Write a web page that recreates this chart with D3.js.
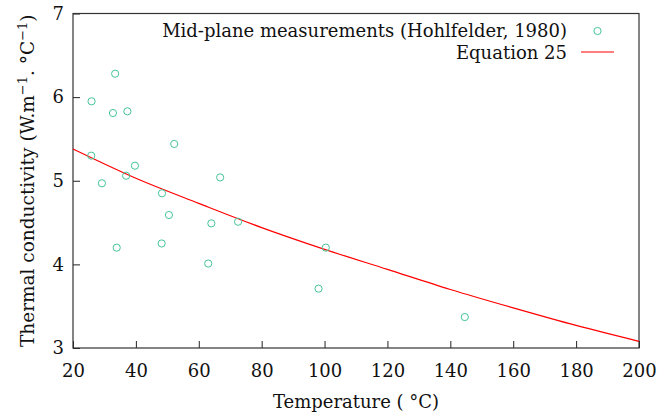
<!DOCTYPE html>
<html>
<head>
<meta charset="utf-8">
<script src="https://cdn.jsdelivr.net/npm/d3@7"></script>
<style>
  body { margin: 0; background: #fff; }
  svg { display: block; }
  svg text { font-family: "DejaVu Serif", serif; fill: #111; }
</style>
</head>
<body>
<svg id="chart" width="670" height="414"></svg>
<script>
// Measured data (Hohlfelder, 1980)
const measTemp = [33.4, 25.9, 32.7, 37.3, 52.2, 25.8, 39.7, 29.2, 36.9, 66.8,
                  48.3, 50.5, 64.0, 72.5, 33.9, 48.2, 63.0, 100.4, 98.1, 144.6];
const measK = [6.28, 5.95, 5.81, 5.83, 5.44, 5.30, 5.18, 4.97, 5.06, 5.04,
               4.85, 4.59, 4.49, 4.51, 4.20, 4.25, 4.01, 4.20, 3.71, 3.37];

// Equation 25
const eqTemp = [20, 40, 60, 80, 100, 120, 140, 160, 180, 200];
const eqK = [5.38, 5.03, 4.73, 4.44, 4.18, 3.94, 3.70, 3.48, 3.27, 3.08];

const xTicks = [20, 40, 60, 80, 100, 120, 140, 160, 180, 200];
const yTicks = [3, 4, 5, 6, 7];

const margin = {left: 73, top: 13.5, right: 31, bottom: 66};
const width = 670, height = 414;
const serif = "DejaVu Serif";
const green = "#45c49a";

const svg = d3.select("#chart");

const x = d3.scaleLinear().domain([20, 200]).range([margin.left, width - margin.right]);
const y = d3.scaleLinear().domain([3, 7]).range([height - margin.bottom, margin.top]);

// Axes with inward ticks
svg.append("g")
  .attr("transform", `translate(0,${height - margin.bottom})`)
  .attr("font-family", serif)
  .call(d3.axisBottom(x).tickValues(xTicks).tickSize(-7).tickPadding(16).tickFormat(d3.format("d")))
  .call(g => g.select(".domain").remove())
  .call(g => g.selectAll("line").attr("stroke", "#222"))
  .call(g => g.selectAll("text").attr("font-size", 18));

svg.append("g")
  .attr("transform", `translate(${margin.left},0)`)
  .attr("font-family", serif)
  .call(d3.axisLeft(y).tickValues(yTicks).tickSize(-7).tickPadding(9).tickFormat(d3.format("d")))
  .call(g => g.select(".domain").remove())
  .call(g => g.selectAll("line").attr("stroke", "#222"))
  .call(g => g.selectAll("text").attr("font-size", 18));

// Border
svg.append("rect")
  .attr("x", margin.left).attr("y", margin.top)
  .attr("width", width - margin.right - margin.left)
  .attr("height", height - margin.bottom - margin.top)
  .attr("fill", "none").attr("stroke", "#333").attr("stroke-width", 1.2);

// Equation curve
const line = d3.line()
  .x((d, i) => x(eqTemp[i]))
  .y(d => y(d))
  .curve(d3.curveMonotoneX);

svg.append("path")
  .datum(eqK)
  .attr("d", line)
  .attr("fill", "none")
  .attr("stroke", "#ff0000")
  .attr("stroke-width", 1.2);

// Measurements
svg.append("g")
  .selectAll("circle")
  .data(measK)
  .join("circle")
  .attr("cx", (d, i) => x(measTemp[i]))
  .attr("cy", d => y(d))
  .attr("r", 3.6)
  .attr("fill", "none")
  .attr("stroke", green)
  .attr("stroke-width", 1);

// Legend
const legend = svg.append("g").attr("font-family", serif).attr("font-size", 18);
legend.append("text")
  .attr("x", 567).attr("y", 37)
  .attr("text-anchor", "end")
  .text("Mid-plane measurements (Hohlfelder, 1980)");
legend.append("circle")
  .attr("cx", 597.5).attr("cy", 31).attr("r", 3.6)
  .attr("fill", "none").attr("stroke", green);
legend.append("text")
  .attr("x", 567).attr("y", 59)
  .attr("text-anchor", "end")
  .text("Equation 25");
legend.append("line")
  .attr("x1", 581).attr("x2", 614).attr("y1", 52).attr("y2", 52)
  .attr("stroke", "#ff0000").attr("stroke-width", 1.2);

// Axis titles
svg.append("text")
  .attr("x", (margin.left + width - margin.right) / 2)
  .attr("y", 408)
  .attr("text-anchor", "middle").attr("font-size", 18)
  .text("Temperature ( °C)");

const yl = svg.append("text")
  .attr("transform", `translate(34,${(margin.top + height - margin.bottom) / 2}) rotate(-90)`)
  .attr("text-anchor", "middle").attr("font-size", 18.5);
yl.append("tspan").text("Thermal conductivity (W.m");
yl.append("tspan").attr("dy", -7).attr("font-size", 13).text("−1");
yl.append("tspan").attr("dy", 7).text(". °C");
yl.append("tspan").attr("dy", -7).attr("font-size", 13).text("−1");
yl.append("tspan").attr("dy", 7).text(")");
</script>
</body>
</html>
